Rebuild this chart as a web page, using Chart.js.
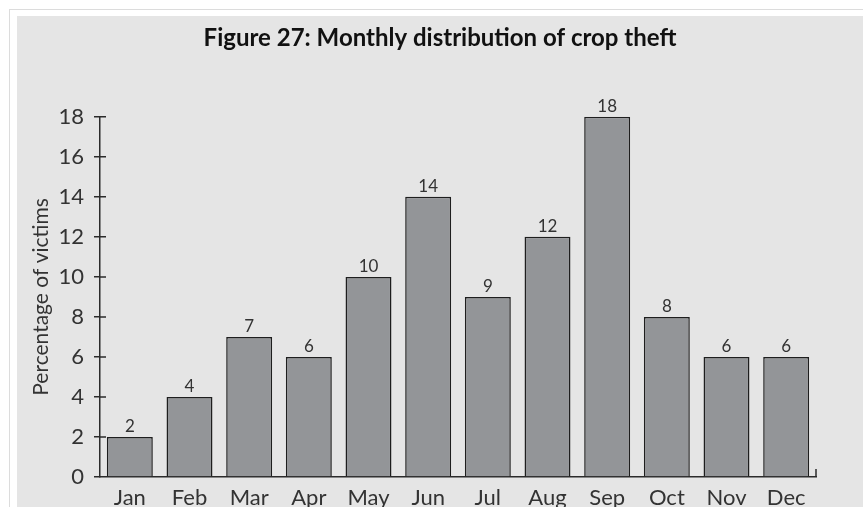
<!DOCTYPE html>
<html>
<head>
<meta charset="utf-8">
<script src="https://cdn.jsdelivr.net/npm/chart.js@4"></script>
<style>
  body { margin: 0; background: #ffffff; width: 863px; height: 507px; overflow: hidden; position: relative; }
  .frame { position: absolute; left: 9px; top: 9px; width: 900px; height: 600px; border: 1px solid #dcdcdc; }
  .panel { position: absolute; left: 17px; top: 16px; width: 846px; height: 491px; background: #e5e5e5; }
</style>
</head>
<body>
<div class="frame"></div>
<div class="panel"><canvas id="myChart" width="846" height="491"></canvas></div>
<script>
// chart data
const months = ["Jan", "Feb", "Mar", "Apr", "May", "Jun", "Jul", "Aug", "Sep", "Oct", "Nov", "Dec"];
const victims = [2, 4, 7, 6, 10, 14, 9, 12, 18, 8, 6, 6];
const yTicks = [0, 2, 4, 6, 8, 10, 12, 14, 16, 18];

const axisColor = "#2b2b2b";
const textColor = "#333333";

// value labels over the bars
const barLabels = {
  id: "barLabels",
  afterDatasetsDraw(chart) {
    const ctx = chart.ctx;
    const meta = chart.getDatasetMeta(0);
    ctx.save();
    ctx.font = "17px Lato";
    ctx.fillStyle = textColor;
    ctx.textAlign = "center";
    ctx.textBaseline = "alphabetic";
    meta.data.forEach(function (bar, i) {
      ctx.fillText(victims[i], bar.x, bar.y - 5);
    });
    ctx.restore();
  }
};

// ticks crossing the y axis, and the little end mark on the x axis
const axisMarks = {
  id: "axisMarks",
  afterDraw(chart) {
    const ctx = chart.ctx;
    const y = chart.scales.y;
    const x = chart.scales.x;
    ctx.save();
    ctx.strokeStyle = axisColor;
    ctx.lineWidth = 1.5;
    ctx.beginPath();
    yTicks.forEach(function (v) {
      const py = y.getPixelForValue(v);
      if (v === 0) return;
      ctx.moveTo(x.left, py);
      ctx.lineTo(x.left + 6, py);
    });
    ctx.moveTo(x.right, y.bottom);
    ctx.lineTo(x.right, y.bottom - 8);
    ctx.stroke();
    ctx.restore();
  }
};

new Chart("myChart", {
  type: "bar",
  data: {
    labels: months,
    datasets: [{
      data: victims,
      backgroundColor: "#939598",
      borderColor: "#1e1e1e",
      borderWidth: 1.5,
      categoryPercentage: 1,
      barPercentage: 0.77
    }]
  },
  options: {
    responsive: false,
    animation: false,
    layout: { padding: 0 },
    plugins: {
      legend: { display: false },
      tooltip: { enabled: false },
      title: {
        display: true,
        text: "Figure 27: Monthly distribution of crop theft",
        color: "#111111",
        font: { family: "Lato", size: 24, weight: "bold" },
        padding: { top: 8, bottom: 64 }
      }
    },
    scales: {
      x: {
        afterFit(scale) { scale.height = 30; },
        grid: { display: false, drawTicks: false },
        border: { display: true, color: axisColor, width: 1.5 },
        ticks: { color: textColor, font: { family: "Lato", size: 22 }, padding: 8 }
      },
      y: {
        min: 0,
        max: 18,
        afterFit(scale) { scale.width = 83; },
        afterBuildTicks(scale) { scale.ticks = yTicks.map(v => ({ value: v })); },
        grid: { drawOnChartArea: false, drawTicks: true, tickLength: 6, color: axisColor, lineWidth: 1.5 },
        border: { display: true, color: axisColor, width: 1.5 },
        ticks: { color: textColor, font: { family: "Lato", size: 22 }, padding: 10 },
        title: {
          display: true,
          text: "Percentage of victims",
          color: textColor,
          font: { family: "Lato", size: 21 },
          padding: { top: 12, bottom: 0 }
        }
      },
      // empty right-hand space so the title stays centred on the whole panel
      yRight: {
        position: "right",
        min: 0,
        max: 18,
        afterFit(scale) { scale.width = 47; },
        grid: { display: false },
        border: { display: false },
        ticks: { display: false }
      }
    }
  },
  plugins: [barLabels, axisMarks]
});
</script>
</body>
</html>
